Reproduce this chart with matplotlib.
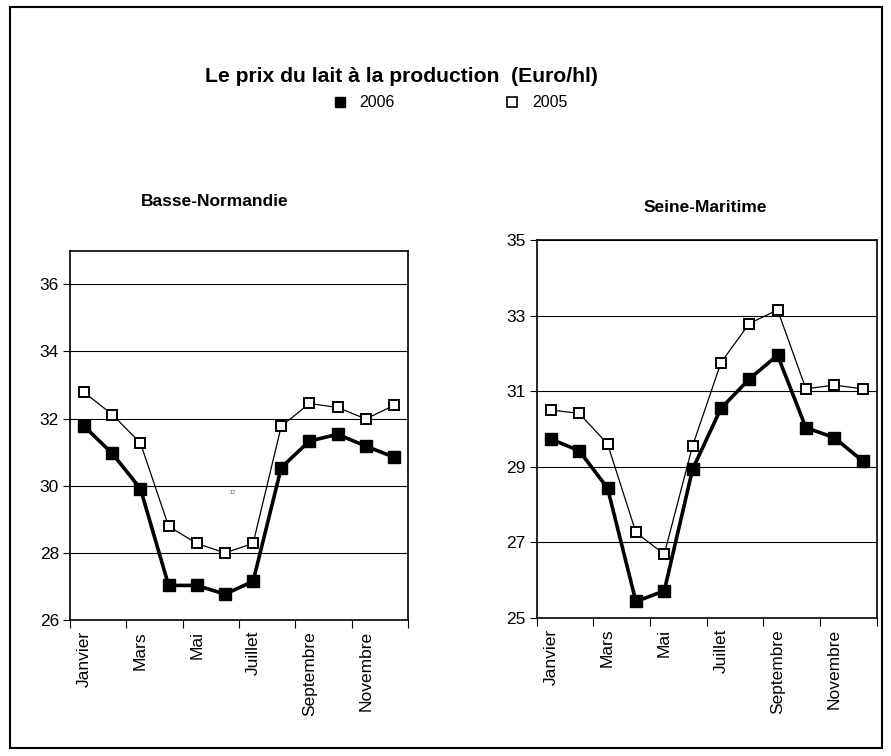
import matplotlib
matplotlib.use("Agg")
import matplotlib.pyplot as plt
from matplotlib.lines import Line2D
from matplotlib.patches import Rectangle

plt.rcParams['font.family'] = ['Liberation Sans', 'DejaVu Sans']

# donnees
mois = ["Janvier", "Février", "Mars", "Avril", "Mai", "Juin", "Juillet",
        "Août", "Septembre", "Octobre", "Novembre", "Décembre"]
bn_2006 = [31.77, 30.96, 29.91, 27.03, 27.03, 26.77, 27.15, 30.54, 31.33, 31.53, 31.18, 30.85]
bn_2005 = [32.78, 32.12, 31.27, 28.79, 28.28, 28.00, 28.28, 31.77, 32.45, 32.33, 31.99, 32.39]
sm_2006 = [29.73, 29.42, 28.43, 25.43, 25.71, 28.93, 30.54, 31.32, 31.95, 30.03, 29.77, 29.15]
sm_2005 = [30.50, 30.41, 29.60, 27.26, 26.68, 29.55, 31.75, 32.79, 33.15, 31.06, 31.16, 31.06]

titre = "Le prix du lait à la production  (Euro/hl)"
regions = ["Basse-Normandie", "Seine-Maritime"]

fig = plt.figure(figsize=(8.91, 7.56), dpi=100)

ax1 = fig.add_axes([0.0786, 0.1799, 0.3793, 0.4885])
ax2 = fig.add_axes([0.6024, 0.1829, 0.3816, 0.4996])

x = list(range(len(mois)))


def trace(ax, v2006, v2005, ymin, ymax, yticks):
    ax.plot(x, v2005, color='black', lw=0.9, marker='s', ms=7.5,
            mfc='white', mec='black', mew=1.4, zorder=3)
    ax.plot(x, v2006, color='black', lw=2.6, marker='s', ms=8.5,
            mfc='black', mec='black', zorder=4)
    ax.set_xlim(-0.5, 11.5)
    ax.set_ylim(ymin, ymax)
    ax.set_yticks(yticks)
    for t in yticks[1:]:
        ax.axhline(t, color='black', lw=0.8, zorder=1)
    # graduations entre les categories, etiquettes une sur deux
    ax.set_xticks([i - 0.5 for i in range(0, 13, 2)])
    ax.set_xticklabels([])
    ax.set_xticks(list(range(0, 12, 2)), minor=True)
    ax.set_xticklabels(mois[::2], minor=True, rotation=90, fontsize=12.5)
    ax.tick_params(axis='x', which='major', length=6, width=0.8, direction='out')
    ax.tick_params(axis='x', which='minor', length=0, pad=8)
    ax.tick_params(axis='y', length=5, width=0.8, labelsize=12.5, pad=3)
    for s in ax.spines.values():
        s.set_linewidth(1.2)
        s.set_color('black')


trace(ax1, bn_2006, bn_2005, 26, 37, [26, 28, 30, 32, 34, 36])
trace(ax2, sm_2006, sm_2005, 25, 35, [25, 27, 29, 31, 33, 35])

fig.text(0.4506, 0.899, titre, ha='center', va='center', fontsize=15.2, fontweight='bold')
fig.text(0.241, 0.734, regions[0], ha='center', va='center', fontsize=12.5, fontweight='bold')
fig.text(0.792, 0.726, regions[1], ha='center', va='center', fontsize=12.5, fontweight='bold')
fig.text(0.2615, 0.349, "12", ha='center', va='center', fontsize=4, color='#555555')

poignees = [
    Line2D([], [], ls='none', marker='s', ms=7.5, mfc='black', mec='black'),
    Line2D([], [], ls='none', marker='s', ms=7.5, mfc='white', mec='black', mew=1.2),
]
fig.legend(poignees, ["2006", "2005"], loc='center', bbox_to_anchor=(0.506, 0.864),
           ncol=2, frameon=False, fontsize=11.5, handlelength=0.7,
           handletextpad=0.9, columnspacing=7)

# cadre autour de la figure
fig.patches.append(Rectangle((10 / 891, 1 - 748 / 756), 872 / 891, 741 / 756,
                             transform=fig.transFigure, fill=False,
                             edgecolor='black', lw=1.5))

fig.savefig("out.png", dpi=100)
